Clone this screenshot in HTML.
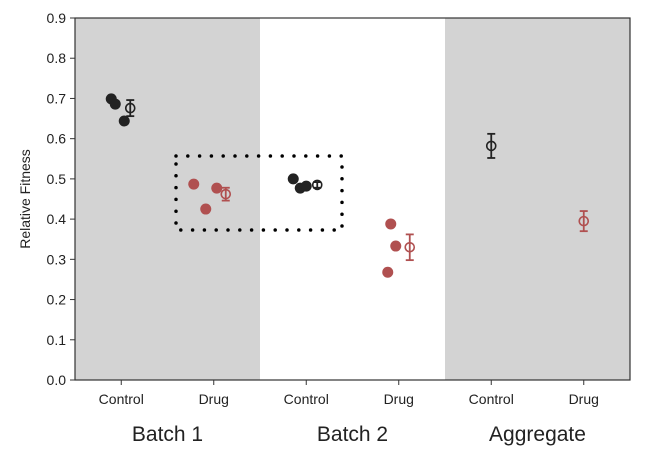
<!DOCTYPE html>
<html><head><meta charset="utf-8"><style>
body{margin:0;background:#fff;font-family:"Liberation Sans",sans-serif}
</style></head><body>
<svg id="c" width="648" height="454" xmlns="http://www.w3.org/2000/svg" font-family="Liberation Sans, sans-serif"></svg>
<script>
const categories=["Control","Drug","Control","Drug","Control","Drug"];
const groups=["Batch 1","Batch 2","Aggregate"];
const yTicks=[0,0.1,0.2,0.3,0.4,0.5,0.6,0.7,0.8,0.9];
const pointCat=[0,0,0,1,1,1,2,2,2,3,3,3];
const pointVals=[0.699,0.686,0.644,0.487,0.425,0.477,0.500,0.477,0.482,0.388,0.333,0.268];
const pointJitter=[-10,-6,3,-20,-8,3,-13,-6,0,-8,-3,-11];
const meanCat=[0,1,2,3,4,5];
const meanVals=[0.676,0.462,0.485,0.330,0.582,0.395];
const meanErr=[0.02,0.016,0.007,0.032,0.03,0.025];
const meanOffset=[9,12,11,11,0,0];
const L=75,R=630,T=18,B=380,ymax=0.9;
const xS=i=>L+(i+0.5)*(R-L)/categories.length;
const yS=v=>B-v/ymax*(B-T);
const svg=document.getElementById('c');const NS="http://www.w3.org/2000/svg";
function el(t,a,p){const e=document.createElementNS(NS,t);for(const k in a)e.setAttribute(k,a[k]);(p||svg).appendChild(e);return e;}
const cw=(R-L)/categories.length;
[0,2].forEach(g=>{const r=el('rect',{x:L+g*2*cw,y:T,width:2*cw,height:B-T,fill:'#d3d3d3'});

});
// dotted box
const box=el('rect',{x:176,y:156,width:166,height:74,fill:'none',stroke:'#000','stroke-width':3.5,'stroke-dasharray':'0 11.8','stroke-linecap':'round'});


const colors=c=>c%2===0?'#222':'#b05050';
pointVals.forEach((v,i)=>{const c=el('circle',{cx:xS(pointCat[i])+pointJitter[i],cy:yS(v),r:5.5,fill:colors(pointCat[i])});

});
meanVals.forEach((v,i)=>{const g=el('g',{});


const x=xS(meanCat[i])+meanOffset[i],col=colors(meanCat[i]);
const y1=yS(v+meanErr[i]),y2=yS(v-meanErr[i]);
el('line',{x1:x,x2:x,y1:y1,y2:y2,stroke:col,'stroke-width':1.8},g);
el('line',{x1:x-4,x2:x+4,y1:y1,y2:y1,stroke:col,'stroke-width':1.8},g);
el('line',{x1:x-4,x2:x+4,y1:y2,y2:y2,stroke:col,'stroke-width':1.8},g);
el('circle',{cx:x,cy:yS(v),r:4.5,fill:'none',stroke:col,'stroke-width':1.6},g);});
const ax=el('rect',{x:L,y:T,width:R-L,height:B-T,fill:'none',stroke:'#333','stroke-width':1.2});


yTicks.forEach(t=>{const y=yS(t);el('line',{x1:L-5,x2:L,y1:y,y2:y,stroke:'#333'});
const tx=el('text',{x:L-9,y:y+5,'text-anchor':'end','font-size':14,fill:'#222'});tx.textContent=t.toFixed(1);

});
categories.forEach((c,i)=>{const x=xS(i);el('line',{x1:x,x2:x,y1:B,y2:B+5,stroke:'#333'});
const tx=el('text',{x:x,y:404,'text-anchor':'middle','font-size':14,fill:'#222'});tx.textContent=c;

});
groups.forEach((g,i)=>{const tx=el('text',{x:xS(2*i+0.5),y:441,'text-anchor':'middle','font-size':21,fill:'#222'});tx.textContent=g;

});
const yl=el('text',{x:0,y:0,transform:'translate(30,199) rotate(-90)','text-anchor':'middle','font-size':14,fill:'#222'});yl.textContent='Relative Fitness';


</script></body></html>
